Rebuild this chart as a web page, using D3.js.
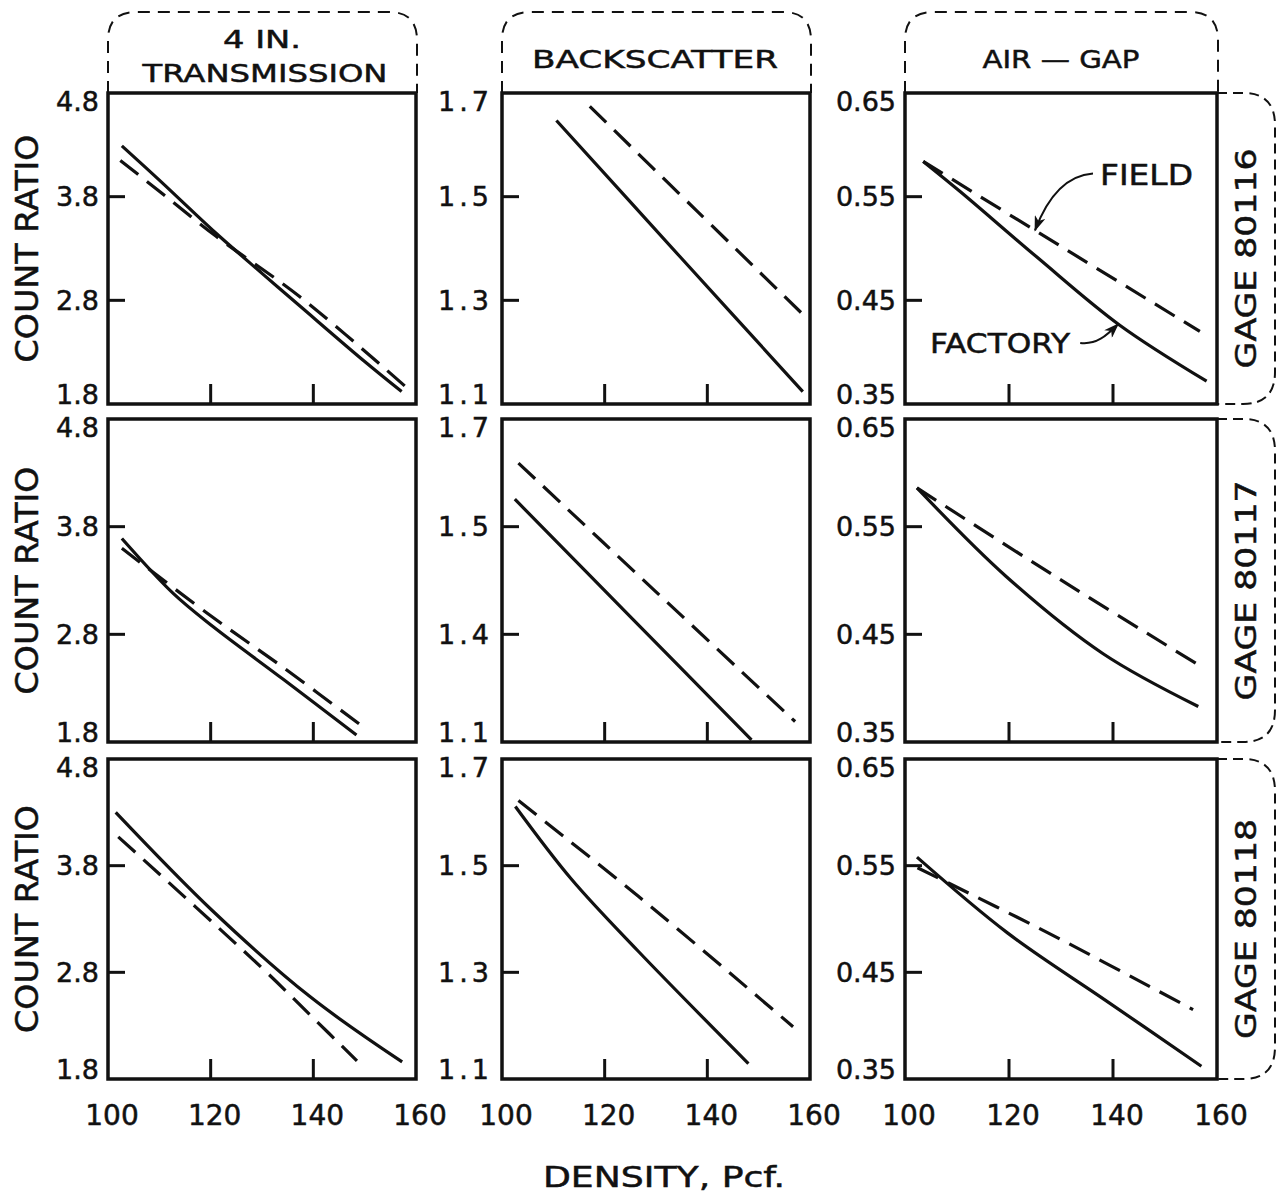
<!DOCTYPE html>
<html>
<head>
<meta charset="utf-8">
<script src="https://cdn.jsdelivr.net/npm/d3@7"></script>
<style>
body { margin: 0; background: #fff; }
text { font-family: "DejaVu Sans", sans-serif; fill: #111; stroke: #111; stroke-width: 0.5px; }
</style>
</head>
<body>
<script>
// density ticks (pcf)
var xTicks = [100, 120, 140, 160];
var gages = ["GAGE 80116", "GAGE 80117", "GAGE 80118"];
var colTitles = [["4 IN.", "TRANSMISSION"], ["BACKSCATTER"], ["AIR \u2014 GAP"]];

// count ratio range for each gage type (columns)
var yDomains = [[1.8, 4.8], [1.1, 1.7], [0.35, 0.65]];
var yTickVals = [[4.8, 3.8, 2.8, 1.8], [1.7, 1.5, 1.3, 1.1], [0.65, 0.55, 0.45, 0.35]];
// labels as printed (the 80117 backscatter panel reads 1.4 at the second tick)
var yTickLabels = [
  [["4.8", "3.8", "2.8", "1.8"], ["1.7", "1.5", "1.3", "1.1"], ["0.65", "0.55", "0.45", "0.35"]],
  [["4.8", "3.8", "2.8", "1.8"], ["1.7", "1.5", "1.4", "1.1"], ["0.65", "0.55", "0.45", "0.35"]],
  [["4.8", "3.8", "2.8", "1.8"], ["1.7", "1.5", "1.3", "1.1"], ["0.65", "0.55", "0.45", "0.35"]]
];

// [density, count ratio], one list per gage 80116 / 80117 / 80118
var transFactory = [
  [[102.7, 4.29], [110, 3.96], [121, 3.45], [130, 3.06], [137.5, 2.74], [150, 2.21], [157.2, 1.92]],
  [[102.7, 3.69], [112.7, 3.18], [120.5, 2.87], [134.2, 2.38], [148.4, 1.865]],
  [[101.5, 4.30], [120.3, 3.38], [139.4, 2.57], [157.3, 1.96]]
];
var transField = [
  [[102.4, 4.15], [110.8, 3.82], [121, 3.42], [137.5, 2.83], [157.9, 1.97]],
  [[102.7, 3.60], [119.2, 3.0], [134.2, 2.49], [149.7, 1.94]],
  [[102, 4.07], [129.8, 2.85], [139.4, 2.40], [148.5, 1.97]]
];
var backFactory = [
  [[110.6, 1.647], [134.6, 1.385], [158.6, 1.124]],
  [[102.5, 1.551], [125.6, 1.327], [148.6, 1.104]],
  [[102.6, 1.611], [113.5, 1.475], [126.5, 1.34], [148, 1.129]]
];
var backField = [
  [[117.1, 1.674], [137.8, 1.474], [158.4, 1.275]],
  [[103.2, 1.618], [130, 1.379], [157.1, 1.138]],
  [[103.2, 1.622], [126.5, 1.443], [156.7, 1.198]]
];
var airFactory = [
  [[103.5, 0.584], [110.6, 0.555], [125.3, 0.492], [141.3, 0.426], [158, 0.372]],
  [[102.3, 0.586], [119.4, 0.504], [138.1, 0.432], [156.4, 0.383]],
  [[102.3, 0.558], [119.7, 0.487], [138.5, 0.424], [157, 0.362]]
];
var airField = [
  [[103.5, 0.584], [130, 0.502], [156.7, 0.42]],
  [[102.3, 0.586], [128.5, 0.505], [157, 0.42]],
  [[102.4, 0.548], [127.5, 0.487], [155.4, 0.415]]
];

var factory = [transFactory, backFactory, airFactory];
var field = [transField, backField, airField];

// layout of the 3x3 grid
var colX = [108, 502, 905], colW = [308, 308, 312];
var rowY = [93, 419, 759], rowH = [311, 323, 320];

var svg = d3.select("body").append("svg")
  .attr("width", 1278).attr("height", 1201);

var defs = svg.append("defs");
defs.append("marker").attr("id", "arrow")
  .attr("markerUnits", "userSpaceOnUse")
  .attr("viewBox", "0 0 14 10").attr("refX", 13).attr("refY", 5)
  .attr("markerWidth", 16).attr("markerHeight", 11).attr("orient", "auto")
  .append("path").attr("d", "M0,0 L14,5 L0,10 L4,5 Z").attr("fill", "#111");

var line = d3.line().curve(d3.curveCatmullRom.alpha(0.5));

function interp(pts, x) {
  for (var i = 1; i < pts.length; i++) {
    if (x <= pts[i][0]) {
      var t = (x - pts[i - 1][0]) / (pts[i][0] - pts[i - 1][0]);
      return pts[i - 1][1] + t * (pts[i][1] - pts[i - 1][1]);
    }
  }
  return pts[pts.length - 1][1];
}

var scales = [];

for (var r = 0; r < 3; r++) {
  scales[r] = [];
  for (var c = 0; c < 3; c++) {
    var x = d3.scaleLinear().domain([100, 160]).range([colX[c], colX[c] + colW[c]]);
    var y = d3.scaleLinear().domain(yDomains[c]).range([rowY[r] + rowH[r], rowY[r]]);
    scales[r][c] = { x: x, y: y };
    var g = svg.append("g");

    // inner ticks
    g.selectAll(".yt").data(yTickVals[c].slice(1, 3)).enter().append("line")
      .attr("x1", colX[c]).attr("x2", colX[c] + 17)
      .attr("y1", function (d) { return y(d); }).attr("y2", function (d) { return y(d); })
      .attr("stroke", "#111").attr("stroke-width", 3);
    g.selectAll(".xt").data(xTicks.slice(1, 3)).enter().append("line")
      .attr("x1", function (d) { return x(d); }).attr("x2", function (d) { return x(d); })
      .attr("y1", rowY[r] + rowH[r]).attr("y2", rowY[r] + rowH[r] - 20)
      .attr("stroke", "#111").attr("stroke-width", 3);

    // y tick labels
    g.selectAll(".yl").data(yTickVals[c]).enter().append("text")
      .attr("x", colX[c] - 9)
      .attr("y", function (d, i) { return y(d) + (i == 0 ? 8 : i == 3 ? -10 : 0); })
      .attr("dy", "0.36em")
      .attr("text-anchor", "end")
      .attr("font-size", 27)
      .attr("letter-spacing", c == 1 ? 4 : 0)
      .text(function (d, i) { return yTickLabels[r][c][i]; });

    // curves
    g.append("path").attr("d", line(factory[c][r].map(function (p) { return [x(p[0]), y(p[1])]; })))
      .attr("fill", "none").attr("stroke", "#111").attr("stroke-width", 3.2);
    g.append("path").attr("d", line(field[c][r].map(function (p) { return [x(p[0]), y(p[1])]; })))
      .attr("fill", "none").attr("stroke", "#111").attr("stroke-width", 3.2)
      .attr("stroke-dasharray", "23,11");

    // frame
    g.append("rect").attr("x", colX[c]).attr("y", rowY[r])
      .attr("width", colW[c]).attr("height", rowH[r])
      .attr("fill", "none").attr("stroke", "#111").attr("stroke-width", 3.5);

    // bottom row gets density labels
    if (r == 2) {
      g.selectAll(".xl").data(xTicks).enter().append("text")
        .attr("x", function (d) { return x(d) + 4; })
        .attr("y", 1125)
        .attr("text-anchor", "middle")
        .attr("font-size", 28)
        .text(function (d) { return d; });
    }
  }

  // COUNT RATIO on the left of each row
  svg.append("text")
    .attr("transform", "translate(38," + (rowY[r] + rowH[r] / 2) + ") rotate(-90)")
    .attr("text-anchor", "middle").attr("font-size", 32)
    .attr("textLength", 228).attr("lengthAdjust", "spacingAndGlyphs")
    .text("COUNT RATIO");

  // gage label with its dashed box
  var gx0 = colX[2] + colW[2], gx1 = 1275, gy0 = rowY[r], gy1 = rowY[r] + rowH[r], rr = 32;
  svg.append("path")
    .attr("d", "M" + gx0 + "," + gy0 + " L" + (gx1 - rr) + "," + gy0 +
      " Q" + gx1 + "," + gy0 + " " + gx1 + "," + (gy0 + rr) +
      " L" + gx1 + "," + (gy1 - rr) +
      " Q" + gx1 + "," + gy1 + " " + (gx1 - rr) + "," + gy1 + " L" + gx0 + "," + gy1)
    .attr("fill", "none").attr("stroke", "#111").attr("stroke-width", 2)
    .attr("stroke-dasharray", "10,6");
  svg.append("text")
    .attr("transform", "translate(1256," + (rowY[r] + rowH[r] / 2 + 10) + ") rotate(-90)")
    .attr("text-anchor", "middle").attr("font-size", 28)
    .attr("textLength", 220).attr("lengthAdjust", "spacingAndGlyphs")
    .text(gages[r]);
}

// column titles in dashed tabs
var titleTop = 12, tr = 28;
for (var c = 0; c < 3; c++) {
  var l = colX[c], rt = colX[c] + colW[c] + 1, b = rowY[0];
  svg.append("path")
    .attr("d", "M" + l + "," + b + " L" + l + "," + (titleTop + tr) +
      " Q" + l + "," + titleTop + " " + (l + tr) + "," + titleTop +
      " L" + (rt - tr) + "," + titleTop +
      " Q" + rt + "," + titleTop + " " + rt + "," + (titleTop + tr) + " L" + rt + "," + b)
    .attr("fill", "none").attr("stroke", "#111").attr("stroke-width", 2)
    .attr("stroke-dasharray", "12,8");
}
var titleSpecs = [
  { t: colTitles[0][0], x: 262, y: 48, len: 78 },
  { t: colTitles[0][1], x: 265, y: 82, len: 245 },
  { t: colTitles[1][0], x: 655, y: 68, len: 246 },
  { t: colTitles[2][0], x: 1061, y: 68, len: 157 }
];
svg.selectAll(".title").data(titleSpecs).enter().append("text")
  .attr("x", function (d) { return d.x; }).attr("y", function (d) { return d.y; })
  .attr("text-anchor", "middle").attr("font-size", 25)
  .attr("textLength", function (d) { return d.len; }).attr("lengthAdjust", "spacingAndGlyphs")
  .text(function (d) { return d.t; });

// FIELD / FACTORY call-outs on the 80116 air-gap panel
var s = scales[0][2];
var fx = s.x(125), fy = s.y(interp(airField[0], 125));
svg.append("path")
  .attr("d", "M" + (fx + 58) + "," + (fy - 57) + " C" + (fx + 30) + "," + (fy - 55) + " " +
    (fx + 12) + "," + (fy - 32) + " " + fx + "," + fy)
  .attr("fill", "none").attr("stroke", "#111").attr("stroke-width", 2)
  .attr("marker-end", "url(#arrow)");
svg.append("text").attr("x", 1100).attr("y", 185).attr("font-size", 29)
  .attr("textLength", 93).attr("lengthAdjust", "spacingAndGlyphs").text("FIELD");

var kx = s.x(141), ky = s.y(interp(airFactory[0], 141));
svg.append("path")
  .attr("d", "M" + (kx - 38) + "," + (ky + 19) + " C" + (kx - 22) + "," + (ky + 21) + " " +
    (kx - 12) + "," + (ky + 12) + " " + kx + "," + ky)
  .attr("fill", "none").attr("stroke", "#111").attr("stroke-width", 2)
  .attr("marker-end", "url(#arrow)");
svg.append("text").attr("x", 930).attr("y", 353).attr("font-size", 26)
  .attr("textLength", 140).attr("lengthAdjust", "spacingAndGlyphs").text("FACTORY");

// x axis title
svg.append("text").attr("x", 543).attr("y", 1187).attr("font-size", 29)
  .attr("textLength", 242).attr("lengthAdjust", "spacingAndGlyphs")
  .text("DENSITY, Pcf.");
</script>
</body>
</html>
